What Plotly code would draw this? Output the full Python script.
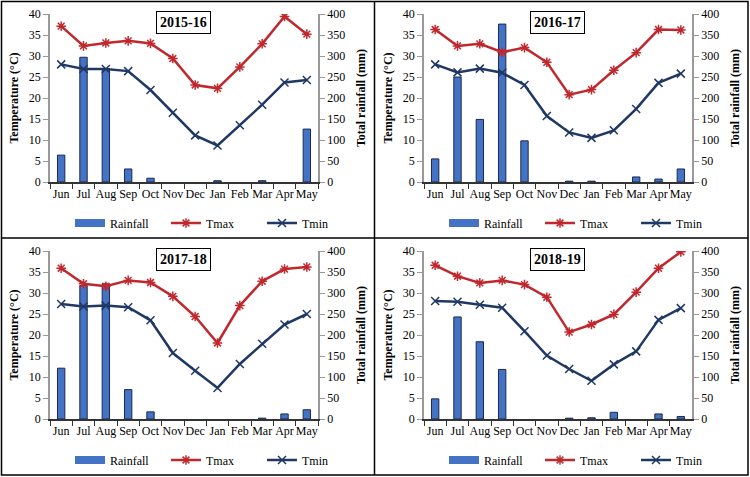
import plotly.graph_objects as go

months = ["Jun", "Jul", "Aug", "Sep", "Oct", "Nov", "Dec", "Jan", "Feb", "Mar", "Apr", "May"]
seasons = ["2015-16", "2016-17", "2017-18", "2018-19"]

# rainfall in mm, temperatures in degrees C
rain_1516 = [64, 297, 269, 31, 9, 0, 0, 3, 0, 3, 0, 126]
tmax_1516 = [37.1, 32.4, 33.1, 33.6, 33.0, 29.4, 23.1, 22.3, 27.4, 32.9, 39.4, 35.2]
tmin_1516 = [28.0, 26.9, 26.9, 26.4, 21.9, 16.5, 11.1, 8.7, 13.5, 18.4, 23.7, 24.3]

rain_1617 = [55, 250, 149, 376, 98, 0, 2, 2, 0, 12, 7, 31]
tmax_1617 = [36.3, 32.4, 32.9, 30.9, 32.0, 28.5, 20.8, 22.0, 26.6, 30.8, 36.3, 36.2]
tmin_1617 = [28.0, 26.1, 27.0, 26.0, 23.1, 15.7, 11.8, 10.5, 12.3, 17.4, 23.6, 25.8]

rain_1718 = [121, 318, 322, 70, 17, 0, 0, 0, 0, 2, 12, 22]
tmax_1718 = [35.9, 32.2, 31.6, 33.0, 32.5, 29.2, 24.4, 18.1, 27.0, 32.8, 35.7, 36.2]
tmin_1718 = [27.4, 26.8, 27.0, 26.6, 23.5, 15.7, 11.5, 7.4, 13.1, 17.9, 22.5, 25.0]

rain_1819 = [48, 243, 184, 118, 0, 0, 2, 3, 16, 0, 12, 6]
tmax_1819 = [36.6, 34.0, 32.4, 33.0, 32.0, 29.0, 20.7, 22.5, 24.9, 30.2, 35.9, 39.8]
tmin_1819 = [28.1, 27.9, 27.2, 26.5, 20.9, 15.1, 11.9, 9.1, 13.0, 16.1, 23.6, 26.4]

rain_all = [rain_1516, rain_1617, rain_1718, rain_1819]
tmax_all = [tmax_1516, tmax_1617, tmax_1718, tmax_1819]
tmin_all = [tmin_1516, tmin_1617, tmin_1718, tmin_1819]

temp_ticks = [0, 5, 10, 15, 20, 25, 30, 35, 40]
rain_ticks = [0, 50, 100, 150, 200, 250, 300, 350, 400]

W, H = 750, 477
FONT = "Liberation Serif"
RED = "#C0282D"
NAVY = "#1F3864"
BLUE = "#4472C4"

# plot areas in pixels (left, right, top, bottom)
boxes = [(50, 318, 14, 182), (424, 692, 14, 182), (50, 318, 251, 419), (424, 692, 251, 419)]

fig = go.Figure()
layout = {}

for i in range(4):
    n = i + 1
    xa = "x" if n == 1 else f"x{n}"
    ya_rain = f"y{2 * n - 1}" if n > 1 else "y"
    ya_temp = f"y{2 * n}"
    lg = "legend" if n == 1 else f"legend{n}"

    # dry months get no bar at all (a zero-height bar would still show its outline)
    rain_shown = [v if v > 0 else None for v in rain_all[i]]
    fig.add_trace(go.Bar(x=months, y=rain_shown, name="Rainfall", xaxis=xa, yaxis=ya_rain,
                         marker=dict(color=BLUE, line=dict(color="#1A2A4F", width=1)),
                         width=0.33, showlegend=False))
    # legend key for rainfall drawn as a wide block, like the original
    fig.add_trace(go.Scatter(x=[None], y=[None], name="Rainfall", xaxis=xa, yaxis=ya_rain,
                             mode="lines", line=dict(color=BLUE, width=8), legend=lg))
    fig.add_trace(go.Scatter(x=months, y=tmax_all[i], name="Tmax", xaxis=xa, yaxis=ya_temp,
                             mode="lines+markers", line=dict(color=RED, width=2.5),
                             marker=dict(symbol="asterisk-open", size=8, color=RED,
                                         line=dict(color=RED, width=1.5)),
                             legend=lg))
    fig.add_trace(go.Scatter(x=months, y=tmin_all[i], name="Tmin", xaxis=xa, yaxis=ya_temp,
                             mode="lines+markers", line=dict(color=NAVY, width=2.5),
                             marker=dict(symbol="x-thin-open", size=8, color=NAVY,
                                         line=dict(color=NAVY, width=1.5)),
                             legend=lg))

    l, r, t, b = boxes[i]
    xdom = [l / W, r / W]
    ydom = [1 - b / H, 1 - t / H]
    xkey = "xaxis" if n == 1 else f"xaxis{n}"
    rkey = "yaxis" if n == 1 else f"yaxis{2 * n - 1}"
    tkey = f"yaxis{2 * n}"

    layout[xkey] = dict(domain=xdom, anchor=ya_rain, type="category", tickson="boundaries",
                        ticks="outside", ticklen=5, tickcolor="#333333", showline=True,
                        linecolor="#333333", linewidth=1.5, showgrid=False, zeroline=False,
                        tickangle=0, automargin=False, range=[-0.5, 11.5],
                        tickfont=dict(family=FONT, size=12, color="black"))
    layout[rkey] = dict(domain=ydom, anchor=xa, side="right", range=[0, 400],
                        tickvals=rain_ticks, ticks="outside", ticklen=5, tickcolor="#999999",
                        showline=True, linecolor="#999999", linewidth=1.5, showgrid=False,
                        zeroline=False, automargin=False,
                        tickfont=dict(family=FONT, size=12, color="black"),
                        title=dict(text="<b>Total rainfall (mm)</b>", standoff=12,
                                   font=dict(family=FONT, size=12, color="black")))
    layout[tkey] = dict(domain=ydom, anchor=xa, overlaying=ya_rain, side="left", range=[0, 40],
                        tickvals=temp_ticks, ticks="outside", ticklen=5, tickcolor="#999999",
                        showline=True, linecolor="#999999", linewidth=1.5, showgrid=False,
                        zeroline=False, automargin=False,
                        tickfont=dict(family=FONT, size=12, color="black"),
                        title=dict(text="<b>Temperature (°C)</b>", standoff=8,
                                   font=dict(family=FONT, size=12, color="black")))
    legend_y = 1 - (b + 41) / H
    layout[lg] = dict(orientation="h", x=(l + 20) / W, xanchor="left", y=legend_y,
                      yanchor="middle", bgcolor="rgba(0,0,0,0)", itemclick=False,
                      font=dict(family=FONT, size=12, color="black"),
                      traceorder="normal", entrywidth=51, entrywidthmode="pixels")

    fig.add_annotation(text=f"<b>{seasons[i]}</b>", xref="paper", yref="paper",
                       x=(l + 133) / W, y=1 - (t + 8) / H, xanchor="center", yanchor="middle",
                       showarrow=False, bordercolor="black", borderwidth=1, borderpad=3,
                       bgcolor="white", font=dict(family=FONT, size=14, color="black"))

# frame around the four panels
fig.add_shape(type="rect", xref="paper", yref="paper", x0=1.5 / W, x1=1 - 2 / W,
              y0=2 / H, y1=1 - 1.5 / H, line=dict(color="black", width=1.5))
fig.add_shape(type="line", xref="paper", yref="paper", x0=374.5 / W, x1=374.5 / W,
              y0=2 / H, y1=1 - 1.5 / H, line=dict(color="black", width=1.5))
fig.add_shape(type="line", xref="paper", yref="paper", x0=1.5 / W, x1=1 - 2 / W,
              y0=1 - 238 / H, y1=1 - 238 / H, line=dict(color="black", width=1.5))

fig.update_layout(**layout)
fig.update_layout(width=W, height=H, margin=dict(l=0, r=0, t=0, b=0),
                  paper_bgcolor="white", plot_bgcolor="white", barmode="overlay",
                  font=dict(family=FONT, color="black"))

# the page body has a default 8px margin; drop it so the figure fills the window
fig.write_html("out.html", config={"displayModeBar": False},
               post_script="document.body.style.margin='0';")
